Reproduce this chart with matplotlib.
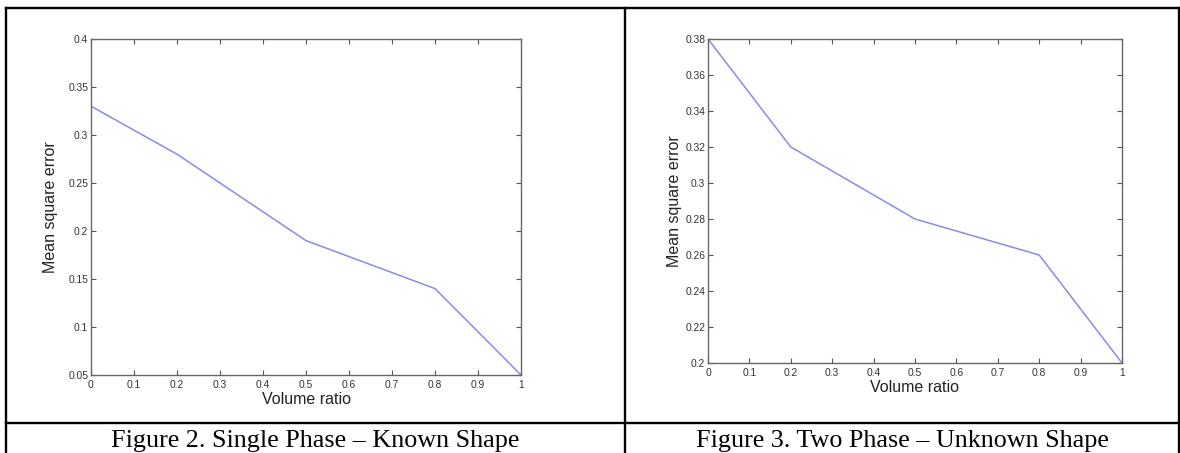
import numpy as np
import matplotlib
matplotlib.use("Agg")
import matplotlib.pyplot as plt
from matplotlib.lines import Line2D

# Data
volume_ratio = [0.0, 0.2, 0.5, 0.8, 1.0]
mse_single_known = [0.33, 0.28, 0.19, 0.14, 0.05]
mse_two_unknown = [0.38, 0.32, 0.28, 0.26, 0.20]

xticks = [0, 0.1, 0.2, 0.3, 0.4, 0.5, 0.6, 0.7, 0.8, 0.9, 1]
yticks_left = [0.05, 0.1, 0.15, 0.2, 0.25, 0.3, 0.35, 0.4]
yticks_right = [0.2, 0.22, 0.24, 0.26, 0.28, 0.3, 0.32, 0.34, 0.36, 0.38]

captions = ["Figure 2. Single Phase \u2013 Known Shape",
            "Figure 3. Two Phase \u2013 Unknown Shape"]

W, H = 1180, 453
fig = plt.figure(figsize=(W / 100, H / 100), dpi=100)
fig.patch.set_facecolor("white")


def px(x0, y0, x1, y1):
    # pixel box (top-left origin) -> figure fraction rect
    return [x0 / W, 1 - y1 / H, (x1 - x0) / W, (y1 - y0) / H]


def fmt(v):
    return "%g" % v


def panel(rect, y, yt, ylim, ylab_x, xlab_y):
    ax = fig.add_axes(rect)
    ax.plot(volume_ratio, y, color="#8a8ae8", lw=1.1)
    ax.set_xlim(0, 1)
    ax.set_ylim(*ylim)
    ax.set_xticks(xticks)
    ax.set_xticklabels([fmt(v) for v in xticks])
    ax.set_yticks(yt)
    ax.set_yticklabels([fmt(v) for v in yt])
    ax.tick_params(direction="in", length=3.5, width=0.8, colors="#555555",
                   labelcolor="#333333", labelsize=7.4, top=True, right=True)
    ax.tick_params(axis="y", pad=2)
    ax.tick_params(axis="x", pad=3.5)
    for s in ax.spines.values():
        s.set_color("#666666")
        s.set_linewidth(1.0)
    ax.set_xlabel("Volume ratio", fontsize=11.5, color="#222222")
    ax.set_ylabel("Mean square error", fontsize=11.5, color="#222222")
    ax.xaxis.set_label_coords(0.5, xlab_y)
    ax.yaxis.set_label_coords(ylab_x, 0.5)
    ax.xaxis.label.set_va("center")
    ax.yaxis.label.set_va("center")
    return ax


plt.rcParams["font.family"] = ["Liberation Sans", "DejaVu Sans"]

panel(px(91, 39, 521, 375), mse_single_known, yticks_left, (0.05, 0.4),
      (51 - 91) / 430, (375 - 400) / 336)
panel(px(708, 39, 1122, 363), mse_two_unknown, yticks_right, (0.2, 0.38),
      (674 - 708) / 414, (363 - 387) / 324)

# table borders
lw = 1.7
segs = [((5.5, 7.5), (1179, 7.5)),
        ((5.5, 7.5), (5.5, 453)),
        ((625, 7.5), (625, 453)),
        ((1179, 7.5), (1179, 453)),
        ((5.5, 422.5), (1179, 422.5))]
for (xa, ya), (xb, yb) in segs:
    fig.add_artist(Line2D([xa / W, xb / W], [1 - ya / H, 1 - yb / H],
                          color="black", lw=lw, transform=fig.transFigure))

# captions
for cx, cap in zip([315, 902], captions):
    fig.text(cx / W, 1 - 447 / H, cap, ha="center", va="baseline",
             fontsize=18.8, family=["Liberation Serif", "DejaVu Serif"])

fig.savefig("out.png", dpi=100, facecolor="white")
